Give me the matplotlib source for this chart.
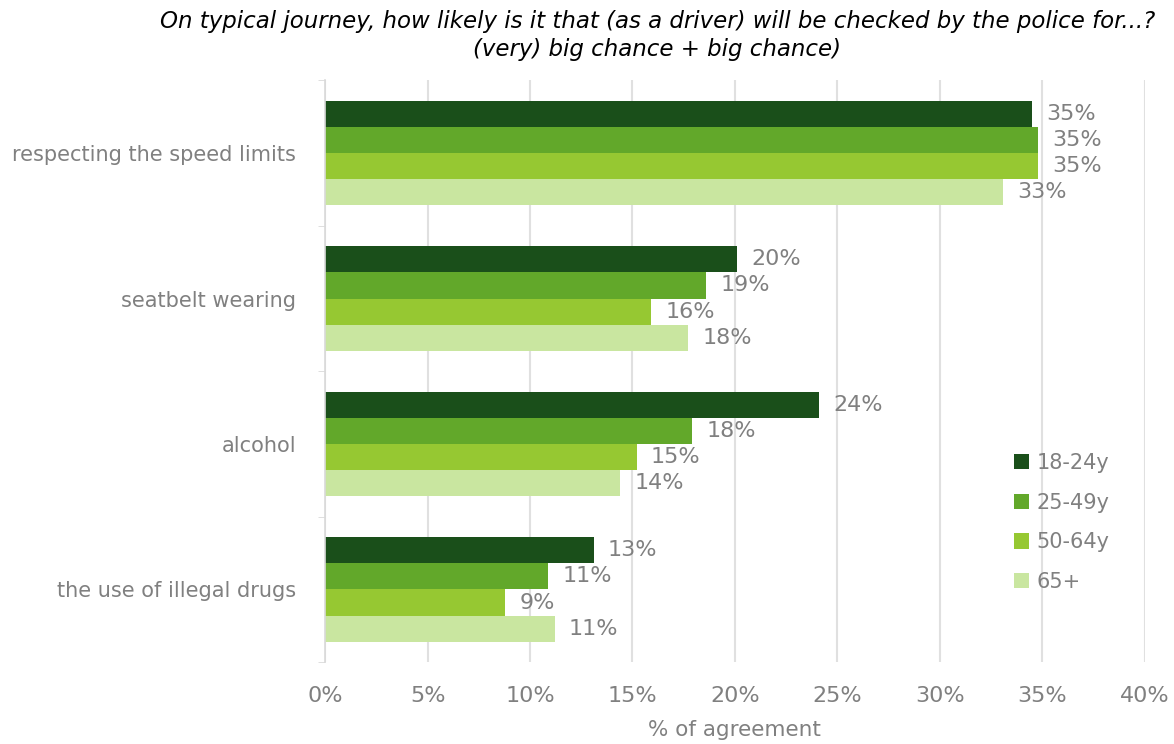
import numpy as np
from matplotlib import pyplot as plt

categories = ["respecting the speed limits", "seatbelt wearing", "alcohol", "the use of illegal drugs"]
groups = ["18-24y", "25-49y", "50-64y", "65+"]
v_18_24 = [34.5, 20.1, 24.1, 13.1]
v_25_49 = [34.8, 18.6, 17.9, 10.9]
v_50_64 = [34.8, 15.9, 15.2, 8.8]
v_65 = [33.1, 17.7, 14.4, 11.2]
labels_18_24 = ["35%", "20%", "24%", "13%"]
labels_25_49 = ["35%", "19%", "18%", "11%"]
labels_50_64 = ["35%", "16%", "15%", "9%"]
labels_65 = ["33%", "18%", "14%", "11%"]

colors = ["#1a4f1a", "#62a82a", "#96c832", "#c9e6a0"]
grey = "#808080"

plt.rcParams['font.family'] = ['DejaVu Sans']

fig = plt.figure(figsize=(11.74, 7.44), dpi=100)
ax = fig.add_axes([0.277, 0.110, 0.698, 0.782])

series = [v_18_24, v_25_49, v_50_64, v_65]
series_labels = [labels_18_24, labels_25_49, labels_50_64, labels_65]
h = 0.18
y = np.arange(len(categories))
for i, (vals, labs) in enumerate(zip(series, series_labels)):
    pos = y + (i - 1.5) * h
    ax.barh(pos, vals, height=h, color=colors[i], label=groups[i], zorder=2)
    for p, v, t in zip(pos, vals, labs):
        ax.text(v + 0.7, p, t, va="center", ha="left", fontsize=16, color=grey)

ax.set_ylim(len(categories) - 0.5, -0.5)
ax.set_xlim(0, 40)
ax.set_xticks(np.arange(0, 41, 5))
ax.set_xticklabels([f"{t}%" for t in range(0, 41, 5)])
ax.set_yticks(y)
ax.set_yticklabels(categories)
ax.set_yticks(np.arange(-0.5, len(categories), 1), minor=True)
ax.tick_params(axis="y", which="major", length=0, pad=21, labelsize=15, labelcolor=grey)
ax.tick_params(axis="y", which="minor", length=5, color="#d9d9d9")
ax.tick_params(axis="x", length=0, pad=17, labelsize=16, labelcolor=grey)
ax.grid(axis="x", color="#e0e0e0", linewidth=1.5, zorder=0)
for s in ["top", "right", "bottom"]:
    ax.spines[s].set_visible(False)
ax.spines["left"].set_color("#d9d9d9")
ax.spines["left"].set_linewidth(1.2)

ax.set_xlabel("% of agreement", fontsize=15.5, color=grey, labelpad=10)

leg = ax.legend(loc="upper left", bbox_to_anchor=(0.84, 0.36), frameon=False,
                fontsize=15, handlelength=0.75, handleheight=0.75, labelspacing=0.95,
                handletextpad=0.35, borderpad=0, borderaxespad=0)
for t in leg.get_texts():
    t.set_color(grey)

fig.text(0.56, 0.952, "On typical journey, how likely is it that (as a driver) will be checked by the police for...?\n(very) big chance + big chance)",
         ha="center", va="center", fontsize=16.5, style="italic", color="black", linespacing=1.25)

fig.savefig("out.png", dpi=100)
